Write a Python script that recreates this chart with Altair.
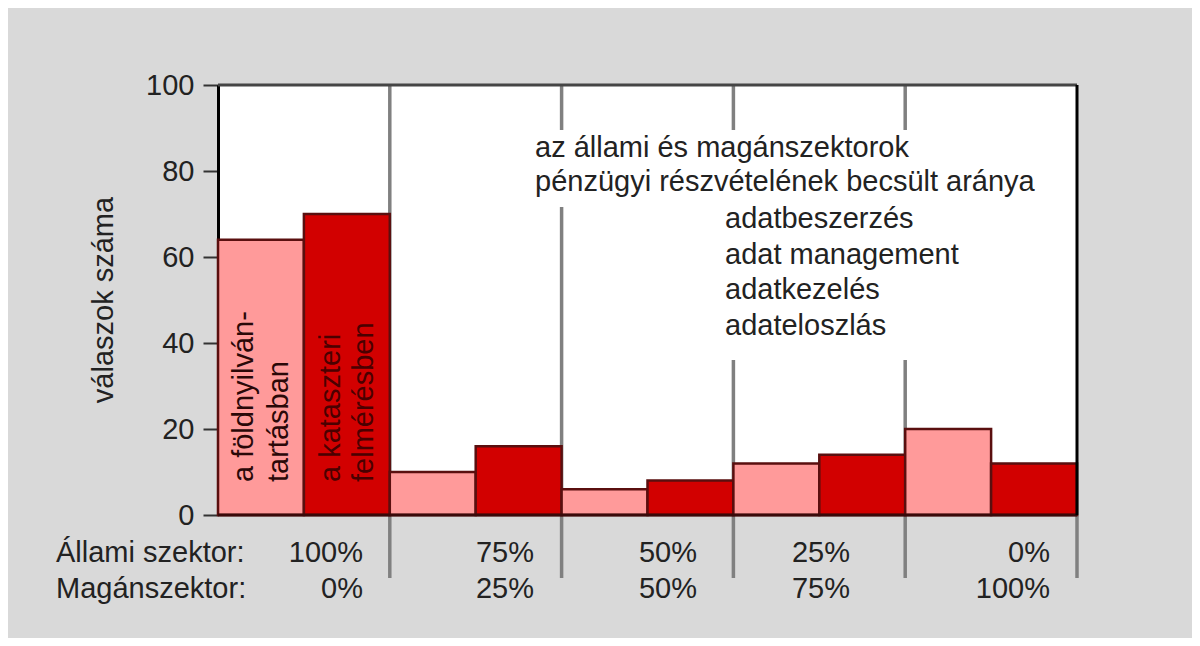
import altair as alt
import pandas as pd

# ---------------- data ----------------
state_share = ["100%", "75%", "50%", "25%", "0%"]
private_share = ["0%", "25%", "50%", "75%", "100%"]
land_registry = [64, 10, 6, 12, 20]      # a földnyilvántartásban
cadastre = [70, 16, 8, 14, 12]           # a kataszteri felmérésben
series_names = ["földnyilvántartás", "kataszteri felmérés"]
series_colors = ["#ff9a9a", "#d20000"]
y_ticks = [0, 20, 40, 60, 80, 100]

y_title = "válaszok száma"
row_labels = ["Állami szektor:", "Magánszektor:"]
note_lines = ["az állami és magánszektorok", "pénzügyi részvételének becsült aránya"]
task_lines = ["adatbeszerzés", "adat management", "adatkezelés", "adateloszlás"]
bar1_lines = ["a földnyilván-", "tartásban"]
bar2_lines = ["a kataszteri", "felmérésben"]

# ---------------- layout helpers ----------------
W, H = 859, 430
LEFT, TOP = 218, 85          # page position of the plot area
FONT = "Liberation Sans"
FS = 29


def xd(px):
    return (px - LEFT) / (W / 10)


def yd(py):
    return (TOP + H - py) / (H / 100)


rows = []
for i in range(len(state_share)):
    rows.append({"x": 2 * i, "x2": 2 * i + 1, "y": land_registry[i], "y2": 0, "series": series_names[0]})
    rows.append({"x": 2 * i + 1, "x2": 2 * i + 2, "y": cadastre[i], "y2": 0, "series": series_names[1]})
bars_df = pd.DataFrame(rows)

xscale = alt.Scale(domain=[0, 10], nice=False, zero=False)
yscale = alt.Scale(domain=[0, 100], nice=False, zero=False)
yaxis = alt.Axis(
    values=y_ticks,
    title=None,
    labelFont=FONT,
    labelFontSize=FS,
    labelColor="#222222",
    labelPadding=9,
    tickSize=15,
    tickColor="#333333",
    tickWidth=2,
    domainColor="#000000",
    domainWidth=3,
    grid=False,
)
X = alt.X("x:Q", scale=xscale, axis=None)
Y = alt.Y("y:Q", scale=yscale, axis=yaxis)

bars = alt.Chart(bars_df).mark_rect(stroke="#5a0f0f", strokeWidth=2.5).encode(
    x=X,
    x2="x2:Q",
    y=Y,
    y2="y2:Q",
    color=alt.Color("series:N", scale=alt.Scale(domain=series_names, range=series_colors), legend=None),
)

# separator lines between the groups (gaps where the notes are)
bottom = yd(578)
seg_df = pd.DataFrame([
    {"x": 2, "y": 100, "y2": bottom},
    {"x": 4, "y": 100, "y2": yd(130)},
    {"x": 4, "y": yd(207), "y2": bottom},
    {"x": 6, "y": 100, "y2": yd(130)},
    {"x": 6, "y": yd(360), "y2": bottom},
    {"x": 8, "y": 100, "y2": yd(130)},
    {"x": 8, "y": yd(360), "y2": bottom},
    {"x": 10, "y": 0, "y2": bottom},
])
seps = alt.Chart(seg_df).mark_rule(color="#808080", strokeWidth=3.5).encode(x=X, y=Y, y2="y2:Q")

top_border = alt.Chart(pd.DataFrame({"x": [0], "x2": [10], "y": [100]})).mark_rule(
    color="#454545", strokeWidth=3
).encode(x=X, x2="x2:Q", y=Y)
right_border = alt.Chart(pd.DataFrame({"x": [10], "y": [0], "y2": [100]})).mark_rule(
    color="#000000", strokeWidth=3
).encode(x=X, y=Y, y2="y2:Q")
base_line = alt.Chart(pd.DataFrame({"x": [0.0], "x2": [10.0], "y": [0.0]})).mark_rule(
    color="#3a0a0a", strokeWidth=3
).encode(x=X, x2="x2:Q", y=Y)


def text_layer(df, **kw):
    return alt.Chart(df).mark_text(font=FONT, fontSize=FS, **kw).encode(x=X, y=Y, text="t:N")


# y-axis title
ytitle_df = pd.DataFrame({"x": [xd(104)], "y": [50], "t": [y_title]})
ytitle = text_layer(ytitle_df, align="center", baseline="middle", angle=270, color="#222222")

# notes in the plot
note_df = pd.DataFrame({
    "x": [xd(535)] * 2,
    "y": [yd(157), yd(191)],
    "t": note_lines,
})
task_df = pd.DataFrame({
    "x": [xd(725)] * 4,
    "y": [yd(228 + 35.5 * i) for i in range(4)],
    "t": task_lines,
})
notes = text_layer(note_df, align="left", baseline="alphabetic", color="#222222")
tasks = text_layer(task_df, align="left", baseline="alphabetic", color="#222222")

# rotated labels inside the first two bars
bar1_df = pd.DataFrame({"x": [xd(244), xd(279)], "y": [yd(482)] * 2, "t": bar1_lines})
bar2_df = pd.DataFrame({"x": [xd(331), xd(364)], "y": [yd(482)] * 2, "t": bar2_lines})
bar1_txt = text_layer(bar1_df, align="left", baseline="middle", angle=270, color="#2a0808")
bar2_txt = text_layer(bar2_df, align="left", baseline="middle", angle=270, color="#4a0000")

# category labels under the plot
pct_x = [xd(363), xd(534), xd(697), xd(850), xd(1050)]
pct_df = pd.DataFrame({
    "x": pct_x * 2,
    "y": [yd(562)] * 5 + [yd(598)] * 5,
    "t": state_share + private_share,
})
pct = text_layer(pct_df, align="right", baseline="alphabetic", color="#222222")
rowlab_df = pd.DataFrame({"x": [xd(56)] * 2, "y": [yd(562), yd(598)], "t": row_labels})
rowlab = text_layer(rowlab_df, align="left", baseline="alphabetic", color="#222222")

chart = alt.layer(
    seps, bars, base_line, top_border, right_border, ytitle, notes, tasks, bar1_txt, bar2_txt, pct, rowlab
).properties(
    width=W,
    height=H,
    padding={"left": LEFT - 8, "top": TOP - 8, "right": 1184 - (LEFT - 8) - W, "bottom": 630 - (TOP - 8) - H},
    autosize=alt.AutoSizeParams(type="none"),
    background="#d9d9d9",
).configure_view(stroke=None, fill="white")

chart.save("out.html", embed_options={"renderer": "svg", "actions": False})
